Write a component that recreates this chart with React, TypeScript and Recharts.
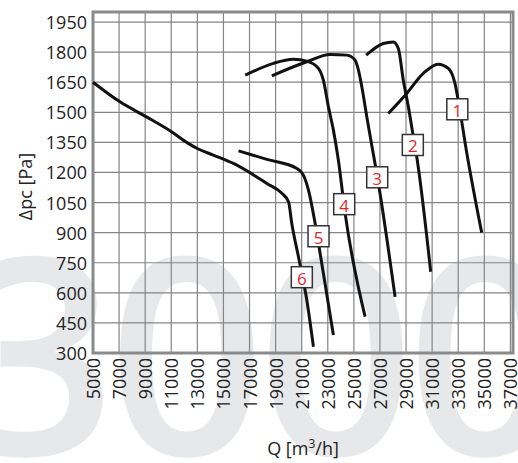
import { LineChart, Line, XAxis, YAxis, CartesianGrid, ReferenceArea, ReferenceDot, Label } from 'recharts';

// fan curves, Q [m3/h] vs static pressure [Pa]
const xTicks = [5000, 7000, 9000, 11000, 13000, 15000, 17000, 19000, 21000, 23000, 25000, 27000, 29000, 31000, 33000, 35000, 37000];
const yTicks = [300, 450, 600, 750, 900, 1050, 1200, 1350, 1500, 1650, 1800, 1950];

const curve1 = [
  { q: 27640, p: 1494 }, { q: 29050, p: 1594 }, { q: 30320, p: 1694 }, { q: 31470, p: 1740 },
  { q: 32240, p: 1719 }, { q: 32750, p: 1644 }, { q: 33000, p: 1560 }, { q: 33650, p: 1300 },
  { q: 34800, p: 900 },
];
const curve2 = [
  { q: 25940, p: 1785 }, { q: 27260, p: 1843 }, { q: 28030, p: 1851 }, { q: 28410, p: 1818 },
  { q: 28790, p: 1660 }, { q: 29180, p: 1527 }, { q: 29560, p: 1378 }, { q: 29820, p: 1278 },
  { q: 30890, p: 705 },
];
const curve3 = [
  { q: 18710, p: 1682 }, { q: 21390, p: 1752 }, { q: 23180, p: 1788 }, { q: 24460, p: 1785 },
  { q: 25090, p: 1760 }, { q: 25350, p: 1710 }, { q: 25610, p: 1627 }, { q: 25990, p: 1478 },
  { q: 26370, p: 1336 }, { q: 26800, p: 1178 }, { q: 28160, p: 580 },
];
const curve4 = [
  { q: 16670, p: 1685 }, { q: 18830, p: 1744 }, { q: 20370, p: 1764 }, { q: 21390, p: 1755 },
  { q: 22280, p: 1719 }, { q: 22660, p: 1660 }, { q: 23050, p: 1527 }, { q: 23430, p: 1411 },
  { q: 23810, p: 1262 }, { q: 24330, p: 996 }, { q: 25860, p: 481 },
];
const curve5 = [
  { q: 16160, p: 1308 }, { q: 18330, p: 1265 }, { q: 20630, p: 1220 }, { q: 21130, p: 1187 },
  { q: 21520, p: 1112 }, { q: 22030, p: 946 }, { q: 22660, p: 697 }, { q: 23430, p: 390 },
];
const curve6 = [
  { q: 5000, p: 1650 }, { q: 7070, p: 1552 }, { q: 9100, p: 1477 }, { q: 11020, p: 1403 },
  { q: 12300, p: 1345 }, { q: 13070, p: 1317 }, { q: 14220, p: 1287 }, { q: 15770, p: 1245 },
  { q: 18330, p: 1145 }, { q: 19480, p: 1096 }, { q: 19990, p: 1054 }, { q: 20240, p: 946 },
  { q: 20750, p: 780 }, { q: 21390, p: 564 }, { q: 21900, p: 331 },
];
const curves = [curve1, curve2, curve3, curve4, curve5, curve6];

const curveLabels = [
  { name: '1', q: 32930, p: 1515 },
  { name: '2', q: 29520, p: 1337 },
  { name: '3', q: 26790, p: 1176 },
  { name: '4', q: 24260, p: 1042 },
  { name: '5', q: 22290, p: 882 },
  { name: '6', q: 21010, p: 678 },
];

const font = '"Open Sans", sans-serif';

const XTick = ({ x, y, payload }: any) => (
  <text x={x} y={y + 5} transform={`rotate(-90 ${x} ${y + 5})`} textAnchor="end" dominantBaseline="central"
    fontFamily={font} fontSize={18} fill="#222">
    {payload.value}
  </text>
);

const YTick = ({ x, y, payload }: any) => (
  <text x={x - 6} y={y} textAnchor="end" dominantBaseline="central" fontFamily={font} fontSize={18} fill="#222">
    {payload.value}
  </text>
);

const boxShape = (name: string) => (props: any) => (
  <g>
    <rect x={props.cx - 10.5} y={props.cy - 10.5} width={21} height={21} fill="#fff" stroke="#333" strokeWidth={1.5} />
    <text x={props.cx} y={props.cy + 1} textAnchor="middle" dominantBaseline="central" fontFamily={font} fontSize={17} fill="#e0262b">
      {name}
    </text>
  </g>
);

export default function App() {
  return (
    <div style={{ position: 'absolute', left: 0, top: 0, width: 518, height: 463, background: '#fff', overflow: 'hidden' }}>
      <svg width={518} height={463} style={{ position: 'absolute', left: 0, top: 0 }}>
        <text x={-41} y={455} fontFamily={font} fontWeight={600} fontSize={275} letterSpacing={-8} fill="#e7e8ea">3000</text>
      </svg>
      <div style={{ position: 'absolute', left: 0, top: 0 }}>
        <LineChart width={518} height={463} margin={{ top: 12, right: 5, left: 0, bottom: 0 }}>
          <CartesianGrid stroke="#858585" strokeWidth={1.2} />
          <XAxis type="number" dataKey="q" domain={[5000, 37200]} ticks={xTicks} interval={0} height={110}
            axisLine={false} tickLine={false} tickSize={0} tickMargin={0} tick={<XTick />}>
            <Label content={({ viewBox }: any) => (
              <text x={viewBox.x + viewBox.width / 2} y={viewBox.y + 102} textAnchor="middle" fontFamily={font} fontSize={18} fill="#222">
                Q [m<tspan dy={-7} fontSize={12}>3</tspan><tspan dy={7}>/h]</tspan>
              </text>
            )} />
          </XAxis>
          <YAxis type="number" domain={[300, 2000]} ticks={yTicks} interval={0} width={93}
            axisLine={false} tickLine={false} tickSize={0} tickMargin={0} tick={<YTick />}>
            <Label content={({ viewBox }: any) => {
              const cx = 25;
              const cy = viewBox.y + viewBox.height / 2 + 4;
              return (
                <text x={cx} y={cy} transform={`rotate(-90 ${cx} ${cy})`} textAnchor="middle" dominantBaseline="central"
                  fontFamily={font} fontSize={18} fill="#222">
                  Δpc [Pa]
                </text>
              );
            }} />
          </YAxis>
          <ReferenceArea x1={5000} x2={37200} y1={300} y2={2000} fill="none" stroke="#8a8a8a" strokeWidth={3} ifOverflow="visible" />
          {curves.map((c, i) => (
            <Line key={i} data={c} dataKey="p" type="monotone" stroke="#111" strokeWidth={3} dot={false}
              isAnimationActive={false} />
          ))}
          {curveLabels.map((l) => (
            <ReferenceDot key={l.name} x={l.q} y={l.p} r={10} ifOverflow="visible" shape={boxShape(l.name)} />
          ))}
        </LineChart>
      </div>
    </div>
  );
}
